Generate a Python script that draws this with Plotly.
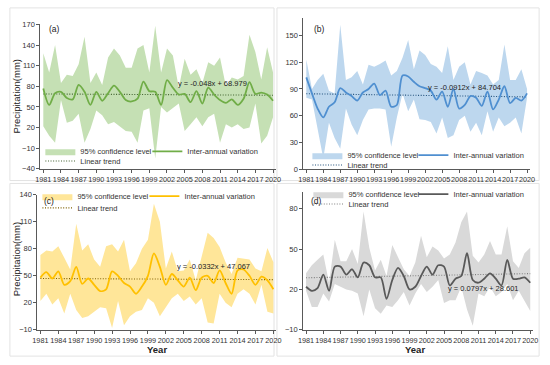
import plotly.graph_objects as go

# ---------------- data ----------------
years = list(range(1981, 2021))
xticks = list(range(1981, 2021, 3))

a_line = [77, 53, 70, 72, 63, 61, 82, 72, 53, 72, 59, 70, 81, 72, 60, 58, 62, 87, 73, 72,
          53, 89, 78, 68, 69, 57, 73, 55, 78, 68, 60, 56, 61, 53, 62, 86, 69, 71, 68, 59]
a_upper = [128, 100, 140, 85, 97, 95, 112, 152, 85, 100, 82, 122, 135, 125, 107, 107, 135, 140, 100, 168,
           100, 135, 125, 78, 120, 97, 105, 85, 115, 110, 122, 80, 93, 90, 95, 155, 130, 90, 137, 100]
a_lower = [22, 8, -2, 60, 27, 30, 40, -2, 18, 45, 38, 25, 28, 22, 15, 14, -2, 45, 48, -25,
           50, 42, 48, 55, 15, 25, 35, 22, 35, 40, -2, 25, 20, 25, 18, 20, 55, -3, 8, 35]
a_trend = (-0.048, 68.979)
a_eq = "y = -0.048x + 68.979"
a_yticks = [-40, -10, 20, 50, 80, 110, 140, 170]

b_line = [103, 85, 68, 58, 70, 75, 91, 86, 82, 77, 86, 90, 96, 83, 88, 70, 72, 105, 104, 98,
          93, 91, 88, 78, 87, 70, 90, 68, 72, 82, 80, 71, 87, 67, 78, 93, 74, 80, 77, 85]
b_upper = [123, 90, 100, 107, 88, 85, 162, 100, 103, 110, 95, 117, 115, 118, 122, 105, 110, 125, 145, 112,
           133, 128, 118, 115, 108, 138, 100, 115, 120, 95, 110, 108, 105, 95, 100, 140, 100, 100, 112, 90]
b_lower = [80, 78, 45, 12, 52, 35, 23, 68, 50, 38, 55, 67, 68, 68, 67, 25, 58, 85, 65, 78,
           56, 55, 53, 40, 58, 35, 38, 55, 60, 42, 52, 38, 65, 42, 58, 48, 52, 58, 40, 80]
b_trend = (-0.0912, 84.704)
b_eq = "y = -0.0912x + 84.704"
b_yticks = [0, 30, 60, 90, 120, 150]

c_line = [48, 54, 47, 55, 40, 44, 60, 41, 47, 40, 33, 35, 55, 50, 42, 38, 30, 38, 50, 75,
          60, 40, 52, 45, 38, 48, 34, 48, 50, 42, 56, 42, 30, 56, 57, 50, 40, 49, 45, 35]
c_upper = [73, 78, 77, 83, 70, 57, 108, 78, 85, 68, 60, 83, 85, 77, 90, 55, 64, 80, 90, 130,
           110, 58, 77, 55, 56, 68, 45, 72, 98, 92, 82, 65, 52, 70, 69, 68, 58, 55, 81, 65]
c_lower = [22, 30, 18, 25, 8, 30, 12, 3, 5, 10, 15, 14, -8, 22, -5, 5, 10, 12, 25, 20,
           5, 15, 25, 30, 22, 27, 18, 25, -2, -3, 30, 20, 15, 30, 35, 30, 18, 40, 10, 8]
c_trend = (-0.0332, 47.067)
c_eq = "y = -0.0332x + 47.067"
c_yticks = [-10, 20, 50, 80, 110, 140]

d_line = [22, 19, 21, 31, 19, 37, 37, 31, 35, 29, 40, 38, 29, 29, 13, 27, 36, 30, 20, 22,
          30, 37, 31, 38, 37, 23, 28, 30, 47, 27, 25, 28, 32, 28, 23, 42, 28, 28, 29, 25]
d_upper = [32, 38, 42, 46, 25, 57, 41, 41, 50, 39, 78, 51, 34, 42, 30, 53, 44, 35, 30, 40,
           60, 44, 52, 49, 43, 46, 55, 70, 78, 45, 40, 46, 56, 46, 46, 67, 41, 36, 47, 51]
d_lower = [19, 7, 7, 17, 11, 24, 22, 20, 19, 17, 0, 20, 6, 2, 8, 7, 12, 18, 8, 17,
           24, 18, 22, 27, 10, 12, 12, 22, 5, -7, 17, 15, 22, 15, 18, 24, 12, 19, 12, 4]
d_trend = (0.0797, 28.601)
d_eq = "y = 0.0797x + 28.601"
d_yticks = [-10, 20, 50, 80]

# ---------------- layout helpers ----------------
W, H = 550, 365
FONT = "Liberation Sans"
TXT = "#333333"
AX = "#595959"


def fx(p):
    return p / W


def fy(p):
    return 1 - p / H


panels = [
    dict(tag="(a)", line=a_line, upper=a_upper, lower=a_lower, trend=a_trend, eq=a_eq, yticks=a_yticks,
         xdom=(36, 276), ydom=(21, 169), yrange=(-40, 170),
         band="#c5e0b4", lc="#70ad47", tc="#3e5f2c",
         leg=(36, 151, 161), ew=62, tagxy=(50, 26), eqxy=(211, 82)),
    dict(tag="(b)", line=b_line, upper=b_upper, lower=b_lower, trend=b_trend, eq=b_eq, yticks=b_yticks,
         xdom=(304, 534.6), ydom=(14, 169.3), yrange=(0, 170),
         band="#bdd7ee", lc="#4f8fd0", tc="#1f4e79",
         leg=(308, 155, 165), ew=61, tagxy=(320, 26), eqxy=(468, 86)),
    dict(tag="(c)", line=c_line, upper=c_upper, lower=c_lower, trend=c_trend, eq=c_eq, yticks=c_yticks,
         xdom=(33, 276.4), ydom=(195.7, 334), yrange=(-10, 140),
         band="#ffe699", lc="#ffc000", tc="#7f6000",
         leg=(33, 197, 209), ew=62, tagxy=(45, 202), eqxy=(212, 269)),
    dict(tag="(d)", line=d_line, upper=d_upper, lower=d_lower, trend=d_trend, eq=d_eq, yticks=d_yticks,
         xdom=(303.7, 537.9), ydom=(193, 334), yrange=(-10, 92.3),
         band="#d9d9d9", lc="#595959", tc="#7f7f7f",
         leg=(309, 195, 205), ew=60, tagxy=(317, 202), eqxy=(487, 292)),
]

fig = go.Figure()
layout = dict(
    width=W, height=H, margin=dict(l=0, r=0, t=0, b=0),
    paper_bgcolor="white", plot_bgcolor="rgba(0,0,0,0)",
    font=dict(family=FONT, size=7.5, color=TXT),
    annotations=[], shapes=[],
)

for i, p in enumerate(panels):
    n = i + 1
    xa = "x" if n == 1 else f"x{n}"
    ya = "y" if n == 1 else f"y{n}"
    leg1 = "legend" if n == 1 else f"legend{2 * n - 1}"
    leg2 = f"legend{2 * n}"

    # confidence band
    fig.add_trace(go.Scatter(
        x=years + years[::-1], y=p["upper"] + p["lower"][::-1],
        fill="toself", fillcolor=p["band"], mode="lines", line=dict(width=0),
        name="95% confidence level", legend=leg1, legendwidth=p["ew"],
        xaxis=xa, yaxis=ya, hoverinfo="skip"))
    # linear trend
    s, b = p["trend"]
    fig.add_trace(go.Scatter(
        x=years, y=[s * (k + 1) + b for k in range(len(years))], mode="lines",
        line=dict(color=p["tc"], width=1.1, dash="1px,1.6px"),
        name="Linear trend", legend=leg2, legendwidth=70, xaxis=xa, yaxis=ya))
    # inter-annual variation
    fig.add_trace(go.Scatter(
        x=years, y=p["line"], mode="lines",
        line=dict(color=p["lc"], width=1.8, shape="spline", smoothing=0.8),
        name="Inter-annual variation", legend=leg1, legendwidth=85, xaxis=xa, yaxis=ya))

    xkey = "xaxis" if n == 1 else f"xaxis{n}"
    ykey = "yaxis" if n == 1 else f"yaxis{n}"
    layout[xkey] = dict(
        domain=[fx(p["xdom"][0]), fx(p["xdom"][1])], range=[1980.5, 2020.5], anchor=ya,
        tickvals=xticks, ticktext=[str(t) for t in xticks], tickangle=0,
        showline=True, linecolor=AX, linewidth=1, ticks="outside", ticklen=3, tickcolor=AX,
        showgrid=False, zeroline=False, tickfont=dict(size=7.3, color=TXT))
    layout[ykey] = dict(
        domain=[fy(p["ydom"][1]), fy(p["ydom"][0])], range=list(p["yrange"]), anchor=xa,
        tickvals=p["yticks"], showline=True, linecolor=AX, linewidth=1, ticks="outside",
        ticklen=3, tickcolor=AX, showgrid=False, zeroline=False, tickfont=dict(size=7.5, color=TXT))

    lx, ly1, ly2 = p["leg"]
    common = dict(orientation="h", xanchor="left", yanchor="middle", bgcolor="rgba(0,0,0,0)",
                  borderwidth=0, font=dict(size=7.5, color=TXT))
    layout[leg1] = dict(x=fx(lx), y=fy(ly1), **common)
    layout[leg2] = dict(x=fx(lx), y=fy(ly2), **common)

    layout["annotations"].append(dict(
        text=p["tag"], x=fx(p["tagxy"][0]), y=fy(p["tagxy"][1]), xref="paper", yref="paper",
        showarrow=False, font=dict(size=8.5, color="#222222"), xanchor="center", yanchor="middle"))
    layout["annotations"].append(dict(
        text=p["eq"], x=fx(p["eqxy"][0]), y=fy(p["eqxy"][1]), xref="paper", yref="paper",
        showarrow=False, font=dict(size=7.5, color="#222222"), xanchor="center", yanchor="middle"))

# axis titles
for yc in (95, 262):
    layout["annotations"].append(dict(
        text="Precipitation(mm)", x=fx(12), y=fy(yc), xref="paper", yref="paper", textangle=-90,
        showarrow=False, font=dict(size=9.5, color="#222222"), xanchor="center", yanchor="middle"))
for xc in (155, 418):
    layout["annotations"].append(dict(
        text="<b>Year</b>", x=fx(xc), y=fy(354), xref="paper", yref="paper",
        showarrow=False, font=dict(size=9.5, color="#222222"), xanchor="center", yanchor="middle"))

# chart-area borders
for (x0, y0, x1, y1) in [(5, 4, 274, 181), (277, 4, 544, 181), (5, 184, 274, 361), (277, 184, 544, 361)]:
    layout["shapes"].append(dict(type="rect", xref="paper", yref="paper",
                                 x0=fx(x0), x1=fx(x1), y0=fy(y1), y1=fy(y0),
                                 line=dict(color="#e3e3e3", width=1), layer="below"))

fig.update_layout(**layout)
fig.write_html("out.html", config={"displayModeBar": False},
               post_script="document.body.style.margin='0px';")
